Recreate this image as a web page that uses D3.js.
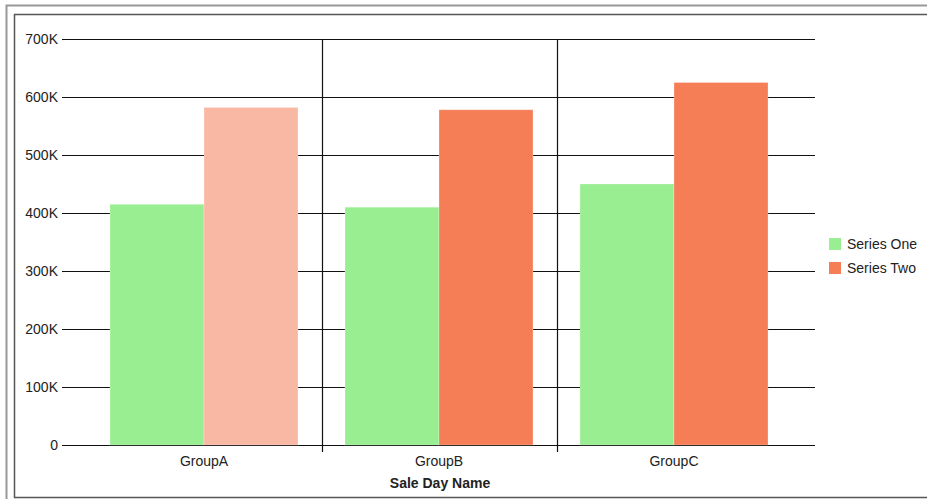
<!DOCTYPE html>
<html><head><meta charset="utf-8">
<script src="https://cdn.jsdelivr.net/npm/d3@7"></script>
<style>
body{margin:0;background:#fff;}
text{font-family:"Liberation Sans",Arial,sans-serif;}
</style></head>
<body><svg id="c" width="927" height="499"></svg>
<script>
const categories = ["GroupA","GroupB","GroupC"];
const seriesNames = ["Series One","Series Two"];
const seriesOne = [415000, 410000, 450000];
const seriesTwo = [582000, 578000, 625000];
const yTicks = [0,100000,200000,300000,400000,500000,600000,700000];
const colors = ["#98EE90","#F57E57"];
const highlightColor = "#F9B8A3";

const svg = d3.select("#c");
// frames
svg.append("rect").attr("x",6.5).attr("y",5.5).attr("width",940).attr("height",520)
  .attr("fill","none").attr("stroke","#999").attr("stroke-width",2);
svg.append("rect").attr("x",14.5).attr("y",14.5).attr("width",930).attr("height",483)
  .attr("fill","#fff").attr("stroke","#555").attr("stroke-width",1.5);

const x = d3.scaleBand().domain(categories).range([86.5,791.5]);
const x1 = d3.scaleBand().domain(seriesNames).range([0,x.bandwidth()]).paddingOuter(0.25).paddingInner(0);
const y = d3.scaleLinear().domain([0,700000]).range([445,39]);
const fmt = v => v===0 ? "0" : (v/1000)+"K";

const gx0 = 62, gx1 = 815;
// grid lines
svg.append("g").selectAll("line").data(yTicks).join("line")
  .attr("x1",gx0).attr("x2",gx1)
  .attr("y1",d=>Math.round(y(d))+0.5).attr("y2",d=>Math.round(y(d))+0.5)
  .attr("stroke","#111").attr("stroke-width",1.2);
svg.append("g").selectAll("text").data(yTicks).join("text")
  .attr("x",58).attr("y",d=>y(d)).attr("dy","0.35em").attr("text-anchor","end")
  .attr("font-size",14).attr("fill","#222").text(fmt);

// separators
const seps = categories.slice(1);
svg.append("g").selectAll("line").data(seps).join("line")
  .attr("x1",d=>Math.round(x(d))+0.5).attr("x2",d=>Math.round(x(d))+0.5)
  .attr("y1",39).attr("y2",452).attr("stroke","#111").attr("stroke-width",1.2);

// bars
const data = categories.map((c,i)=>({c, vals:[seriesOne[i], seriesTwo[i]]}));
const g = svg.append("g");
data.forEach((d,ci)=>{
  d.vals.forEach((v,si)=>{
    let fill = colors[si];
    if (ci===0 && si===1) fill = highlightColor;
    g.append("rect")
      .attr("x", x(d.c)+x1(seriesNames[si]))
      .attr("y", y(v))
      .attr("width", x1.bandwidth())
      .attr("height", y(0)-y(v))
      .attr("fill", fill)
      .attr("stroke","#fff").attr("stroke-opacity",0.25).attr("stroke-width",1);
  });
});

// x labels
svg.append("g").selectAll("text").data(categories).join("text")
  .attr("x",d=>x(d)+x.bandwidth()/2).attr("y",466)
  .attr("text-anchor","middle").attr("font-size",14).attr("fill","#222").text(d=>d);
svg.append("text").attr("x",440).attr("y",488).attr("text-anchor","middle")
  .attr("font-size",14).attr("font-weight","bold").attr("fill","#222").text("Sale Day Name");

// legend
const lg = svg.append("g").selectAll("g").data(seriesNames).join("g")
  .attr("transform",(d,i)=>`translate(829,${238+i*24})`);
lg.append("rect").attr("width",12).attr("height",12).attr("fill",(d,i)=>colors[i]);
lg.append("text").attr("x",18).attr("y",6).attr("dy","0.35em").attr("font-size",14)
  .attr("fill","#222").text(d=>d);
</script></body></html>
